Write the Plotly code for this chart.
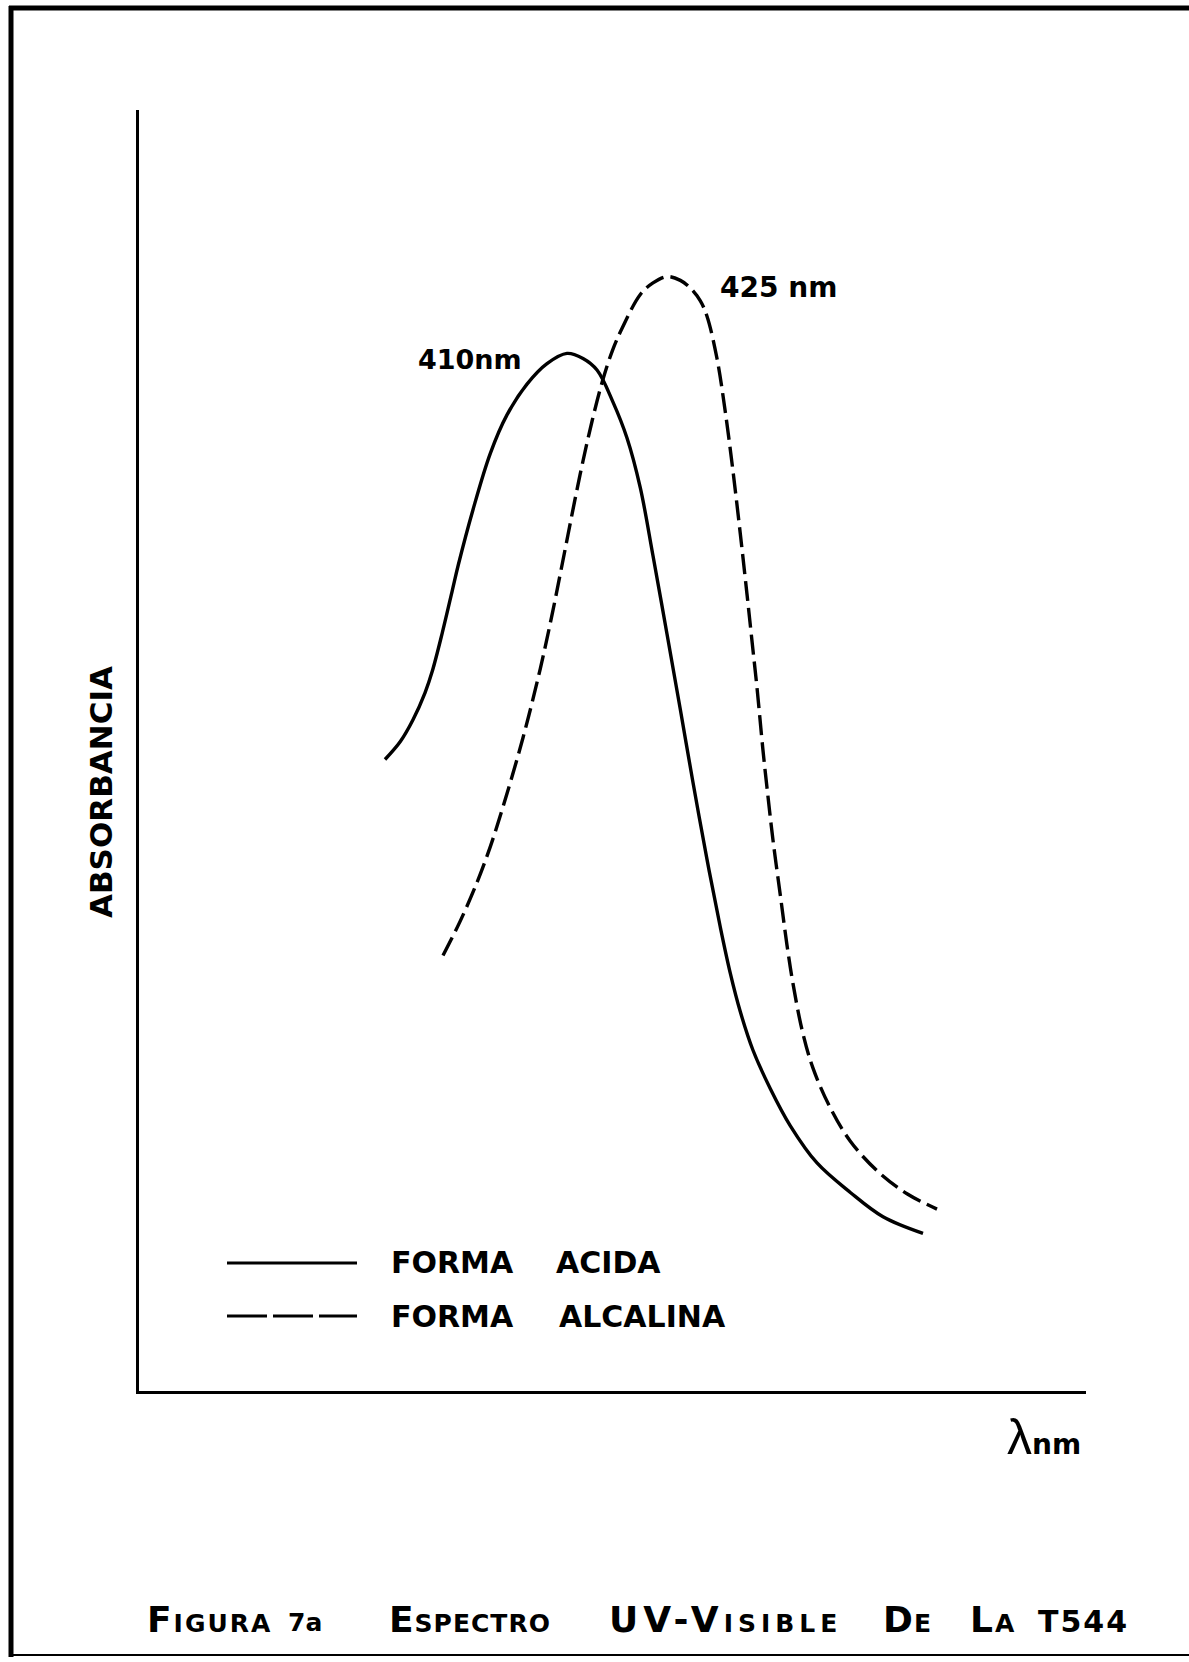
import plotly.graph_objects as go

# ---- data (wavelength in nm, absorbance in arbitrary units) ----
acid_nm = [382.7, 385.0, 386.9, 388.7, 389.8, 391.3, 392.8, 393.7, 395.9, 398.5,
           401.0, 404.0, 407.0, 410.0, 412.4, 414.5, 416.9, 419.0, 421.0, 422.9,
           425.0, 427.0, 428.9, 431.0, 433.0, 434.5, 436.0, 437.9, 440.5, 443.5,
           447.5, 452.5, 457.4, 463.4]
acid_abs = [0.493, 0.507, 0.524, 0.545, 0.562, 0.592, 0.625, 0.645, 0.688, 0.732,
            0.762, 0.786, 0.802, 0.810, 0.806, 0.797, 0.772, 0.744, 0.705, 0.652,
            0.591, 0.532, 0.475, 0.415, 0.362, 0.326, 0.296, 0.266, 0.236, 0.207,
            0.178, 0.155, 0.136, 0.123]

alk_nm = [391.4, 394.0, 396.5, 398.5, 400.4, 403.4, 406.0, 407.8, 409.3, 411.2,
          412.4, 413.8, 415.3, 416.8, 418.3, 421.0, 422.9, 425.0, 427.0, 428.5,
          430.0, 431.0, 432.5, 433.7, 434.9, 436.0, 437.0, 437.8, 438.5, 439.4,
          440.0, 440.9, 442.0, 443.0, 443.9, 445.3, 446.9, 449.5, 452.5, 456.5,
          461.0, 465.5]
alk_abs = [0.340, 0.367, 0.397, 0.425, 0.456, 0.510, 0.564, 0.607, 0.646, 0.696,
           0.726, 0.758, 0.788, 0.812, 0.830, 0.856, 0.865, 0.870, 0.867, 0.861,
           0.851, 0.839, 0.806, 0.766, 0.718, 0.669, 0.622, 0.583, 0.549, 0.500,
           0.471, 0.430, 0.387, 0.348, 0.318, 0.281, 0.252, 0.221, 0.195, 0.172,
           0.154, 0.142]

series_names = ["FORMA", "ACIDA", "ALCALINA"]
peak_labels = ["410nm", "425 nm"]
x_title = "λ"
x_unit = "nm"
y_title = "ABSORBANCIA"
title_words = ["Figura", "7a", "Espectro", "UV-Visible", "De", "La", "T544"]

# ---- layout geometry (pixels) ----
W, H = 1189, 1662
L, R, T, B = 139, 1086, 110, 1391
X_RANGE = [345.8, 487.85]
Y_RANGE = [0, 1]
FONT = "DejaVu Sans"


def px(X):
    return (X - L) / (R - L)


def py(Y):
    return (B - Y) / (B - T)


fig = go.Figure()
fig.add_trace(go.Scatter(x=acid_nm, y=acid_abs, mode="lines", name="FORMA ACIDA",
                         line=dict(color="black", width=3.4, shape="spline", smoothing=1.0)))
fig.add_trace(go.Scatter(x=alk_nm, y=alk_abs, mode="lines", name="FORMA ALCALINA",
                         line=dict(color="black", width=3.4, shape="spline", smoothing=1.0,
                                   dash="20px,7px")))

axis_common = dict(showline=True, linecolor="black", linewidth=3, showgrid=False,
                   zeroline=False, showticklabels=False, ticks="", fixedrange=True)
fig.update_layout(
    width=W, height=H,
    margin=dict(l=L, r=W - R, t=T, b=H - B, pad=0),
    paper_bgcolor="white", plot_bgcolor="white",
    showlegend=False,
    xaxis=dict(range=X_RANGE, **axis_common),
    yaxis=dict(range=Y_RANGE, **axis_common),
)


def ann(text, X, Y, size, xanchor="center", angle=0, variant="normal", weight="bold"):
    fig.add_annotation(text=text, xref="paper", yref="paper", x=px(X), y=py(Y),
                       showarrow=False, xanchor=xanchor, yanchor="middle",
                       textangle=angle,
                       font=dict(family=FONT, size=size, color="black",
                                 weight=weight, variant=variant))


# peak labels
ann(peak_labels[0], 470, 359, 27)
ann(peak_labels[1], 778, 287, 28)

# axis labels
ann(y_title, 101, 792, 31, angle=-90)
fig.add_annotation(
    text=f"<span style='font-family:Liberation Sans;font-size:50px;font-weight:normal'>{x_title}</span>"
         f"<span style='font-size:28px'>{x_unit}</span>",
    xref="paper", yref="paper", x=px(1044), y=py(1437), showarrow=False,
    xanchor="center", yanchor="middle",
    font=dict(family=FONT, size=28, color="black", weight="bold"))

# legend (drawn by hand, like the original)
ann(series_names[0], 452, 1262, 30)
ann(series_names[1], 608, 1262, 30)
ann(series_names[0], 452, 1316, 30)
ann(series_names[2], 642, 1316, 30)
fig.add_shape(type="line", xref="paper", yref="paper", x0=px(227), x1=px(357),
              y0=py(1263), y1=py(1263), line=dict(color="black", width=3))
fig.add_shape(type="line", xref="paper", yref="paper", x0=px(227), x1=px(357),
              y0=py(1316), y1=py(1316), line=dict(color="black", width=3, dash="40px,6px"))

# figure caption, word by word (small caps lettering)
title_centers = [209, 305, 470, 725, 907, 993, 1083]
title_spacing = [2, 0, 1, 5, 1, 2, 2]
for word, cx, sp in zip(title_words, title_centers, title_spacing):
    if word == "7a":
        ann(word, cx, 1622, 25, variant="normal", weight="bold")
    elif word == "T544":
        ann(f"<span style='letter-spacing:{sp}px'>{word}</span>", cx, 1621, 30,
            variant="small-caps")
    else:
        ann(f"<span style='letter-spacing:{sp}px'>{word}</span>", cx, 1619, 36,
            variant="small-caps")

# page frame
fig.add_shape(type="line", xref="paper", yref="paper", x0=px(9), x1=px(1195),
              y0=py(8), y1=py(8), line=dict(color="black", width=5))
fig.add_shape(type="line", xref="paper", yref="paper", x0=px(11), x1=px(11),
              y0=py(6), y1=py(1657), line=dict(color="black", width=5))
fig.add_shape(type="line", xref="paper", yref="paper", x0=px(9), x1=px(1195),
              y0=py(1655), y1=py(1655), line=dict(color="black", width=2))

fig.write_html("out.html", config={"displayModeBar": False},
               post_script="document.body.style.margin='0';document.body.style.overflow='hidden';")
